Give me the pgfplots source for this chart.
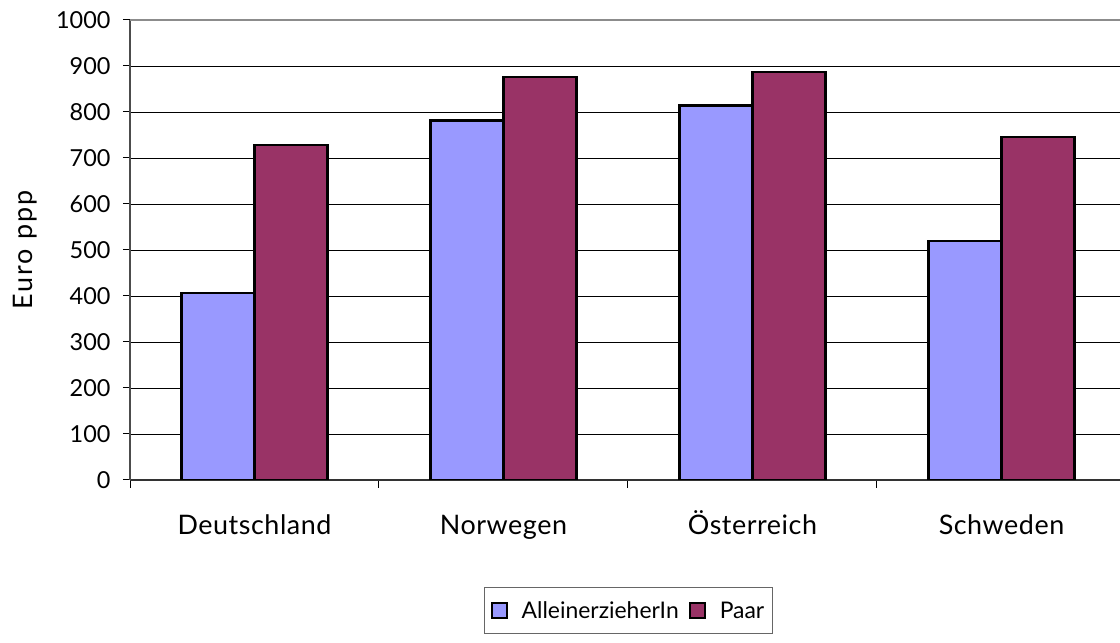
\documentclass[border=0pt]{standalone}
\usepackage{fontspec}
\setmainfont{Lato}
\usepackage{pgfplots}
\pgfplotsset{compat=1.18}
\definecolor{cA}{HTML}{9999FF}
\definecolor{cP}{HTML}{993366}
\begin{document}
\begin{tikzpicture}[x=1bp,y=1bp]
\path[use as bounding box] (0,0) rectangle (1120,643);
\begin{axis}[
  at={(130bp,163bp)}, anchor=south west,
  scale only axis, width=990bp, height=460bp,
  ybar=0pt, bar width=0.293,
  xmin=-0.5, xmax=3.476,
  ymin=0, ymax=1000,
  ytick={0,100,...,1000},
  xtick={0,1,2,3},
  xticklabels={Deutschland,Norwegen,Österreich,Schweden},
  minor xtick={-0.5,0.5,1.5,2.5},
  major x tick style={draw=none},
  minor tick length=8bp,
  major tick length=7bp,
  tick align=outside,
  tick pos=left,
  axis x line*=bottom, axis y line*=left,
  x axis line style={line width=1.2bp, black!80},
  y axis line style={line width=1.6bp, black!70},
  every tick/.style={line width=1bp, black},
  ymajorgrids, grid style={line width=0.9bp, black},
  /pgf/number format/assume math mode=true,
  /pgf/number format/1000 sep={},
  yticklabel style={font=\fontsize{23.5}{26}\selectfont, xshift=-9bp},
  xticklabel style={font=\fontsize{27}{30}\selectfont\addfontfeature{LetterSpace=2}, anchor=base, yshift=-48bp},
  ylabel={Euro ppp},
  ylabel style={font=\fontsize{27}{30}\selectfont\addfontfeature{LetterSpace=8}, at={(axis description cs:-0.106,0.5)}, anchor=center},
  legend style={at={(axis description cs:0.5035,-0.2326)}, anchor=north,
    legend columns=2, draw=black!60, line width=0.8bp,
    font=\fontsize{23}{26}\selectfont,
    inner xsep=6bp, inner ysep=12bp,
    /tikz/every even column/.append style={column sep=8bp},
    /tikz/every odd column/.append style={column sep=12bp}},
  legend image code/.code={\draw[#1, line width=2bp] (0bp,-7.5bp) rectangle (15bp,7.5bp);},
]
\addplot[fill=cA, draw=black, line width=2.5bp] coordinates {(0,406) (1,782) (2,814) (3,519)};
\addplot[fill=cP, draw=black, line width=2.5bp] coordinates {(0,728) (1,876) (2,887) (3,746)};
\legend{AlleinerzieherIn,Paar}
\draw[black!45, line width=1.6bp] (axis cs:-0.5,1000) -- (axis cs:3.476,1000);
\end{axis}
\end{tikzpicture}
\end{document}
